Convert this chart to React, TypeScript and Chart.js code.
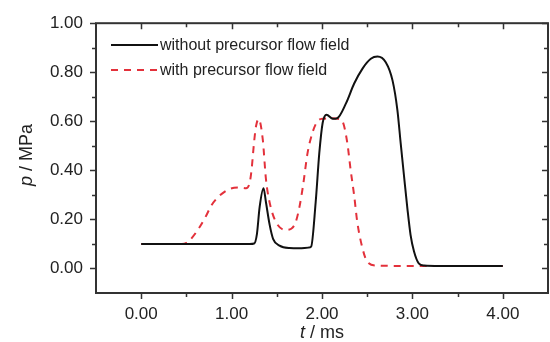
import React, { useEffect, useRef } from "react";
import { Chart, registerables } from "chart.js";

Chart.register(...registerables);

const seriesNames = ["without precursor flow field", "with precursor flow field"];

const tSolid = [0, 0.5, 1.0, 1.2, 1.25, 1.28, 1.31, 1.353, 1.38, 1.42, 1.46, 1.53, 1.64, 1.75, 1.85, 1.88, 1.93, 1.97, 2.007, 2.05, 2.12, 2.17, 2.265, 2.356, 2.448, 2.54, 2.614, 2.705, 2.78, 2.834, 2.87, 2.907, 2.945, 2.98, 3.018, 3.07, 3.13, 3.3, 4.0];
const pSolid = [0.10, 0.10, 0.10, 0.10, 0.102, 0.14, 0.25, 0.327, 0.27, 0.18, 0.12, 0.093, 0.083, 0.082, 0.085, 0.089, 0.27, 0.47, 0.593, 0.627, 0.61, 0.613, 0.673, 0.754, 0.815, 0.855, 0.864, 0.841, 0.767, 0.646, 0.512, 0.378, 0.243, 0.136, 0.069, 0.021, 0.012, 0.01, 0.01];

const tDashed = [0, 0.45, 0.5, 0.54, 0.647, 0.72, 0.776, 0.868, 0.978, 1.088, 1.16, 1.2, 1.22, 1.25, 1.27, 1.30, 1.345, 1.38, 1.42, 1.49, 1.60, 1.66, 1.71, 1.75, 1.79, 1.84, 1.90, 1.95, 2.0, 2.1, 2.19, 2.227, 2.28, 2.316, 2.356, 2.39, 2.448, 2.50, 2.6, 3.0, 4.0];
const pDashed = [0.10, 0.10, 0.104, 0.116, 0.169, 0.216, 0.257, 0.297, 0.324, 0.33, 0.327, 0.35, 0.40, 0.52, 0.58, 0.609, 0.525, 0.364, 0.27, 0.19, 0.157, 0.162, 0.19, 0.25, 0.337, 0.47, 0.56, 0.60, 0.61, 0.612, 0.609, 0.6, 0.512, 0.404, 0.297, 0.19, 0.082, 0.028, 0.012, 0.01, 0.01];

const xMajorTicks = [0, 1, 2, 3, 4];
const xMinorTicks = [0.5, 1.5, 2.5, 3.5];
const yMajorTicks = [0, 0.2, 0.4, 0.6, 0.8, 1.0];
const yMinorTicks = [0.1, 0.3, 0.5, 0.7, 0.9];

const AXIS_COLOR = "#333";
const TEXT_COLOR = "#222";
const FONT = "'Liberation Sans', Arial, sans-serif";

const framePlugin = {
  id: "frame",
  afterDraw(chart: any) {
    const ctx = chart.ctx;
    const { left, right, top, bottom } = chart.chartArea;
    const xs = chart.scales.x;
    const ys = chart.scales.y;
    ctx.save();
    ctx.strokeStyle = AXIS_COLOR;
    ctx.lineWidth = 2;
    ctx.strokeRect(left, top, right - left, bottom - top);
    ctx.lineWidth = 1.5;
    const major = 6, minor = 4;
    ctx.beginPath();
    for (const v of xMajorTicks) {
      const px = Math.round(xs.getPixelForValue(v)) + 0.5;
      ctx.moveTo(px, bottom); ctx.lineTo(px, bottom + major);
      ctx.moveTo(px, top); ctx.lineTo(px, top + major);
    }
    for (const v of xMinorTicks) {
      const px = Math.round(xs.getPixelForValue(v)) + 0.5;
      ctx.moveTo(px, bottom); ctx.lineTo(px, bottom + minor);
      ctx.moveTo(px, top); ctx.lineTo(px, top + minor);
    }
    for (const v of yMajorTicks) {
      const py = Math.round(ys.getPixelForValue(v)) + 0.5;
      ctx.moveTo(left, py); ctx.lineTo(left - major, py);
      ctx.moveTo(right, py); ctx.lineTo(right - major, py);
    }
    for (const v of yMinorTicks) {
      const py = Math.round(ys.getPixelForValue(v)) + 0.5;
      ctx.moveTo(left, py); ctx.lineTo(left - minor, py);
      ctx.moveTo(right, py); ctx.lineTo(right - minor, py);
    }
    ctx.stroke();

    // axis titles with italic symbol
    ctx.fillStyle = TEXT_COLOR;
    ctx.textBaseline = "middle";
    const size = 18;
    const drawMixed = (parts: [string, boolean][], cx: number, cy: number) => {
      let total = 0;
      for (const [s, it] of parts) {
        ctx.font = `${it ? "italic " : ""}${size}px ${FONT}`;
        total += ctx.measureText(s).width;
      }
      let x = cx - total / 2;
      ctx.textAlign = "left";
      for (const [s, it] of parts) {
        ctx.font = `${it ? "italic " : ""}${size}px ${FONT}`;
        ctx.fillText(s, x, cy);
        x += ctx.measureText(s).width;
      }
    };
    drawMixed([["t", true], [" / ms", false]], 322, 333);
    ctx.save();
    ctx.translate(27, 155);
    ctx.rotate(-Math.PI / 2);
    drawMixed([["p", true], [" / MPa", false]], 0, 0);
    ctx.restore();

    // legend
    const ds = chart.data.datasets;
    const lx0 = left + 15, lx1 = left + 62, tx = left + 64;
    const rows = [45, 70];
    ctx.font = `16px ${FONT}`;
    ctx.textAlign = "left";
    ctx.textBaseline = "middle";
    ds.forEach((d: any, i: number) => {
      const y = rows[i];
      ctx.beginPath();
      ctx.strokeStyle = d.borderColor;
      ctx.lineWidth = 2;
      ctx.setLineDash(d.borderDash || []);
      ctx.moveTo(lx0, y); ctx.lineTo(lx1, y);
      ctx.stroke();
      ctx.setLineDash([]);
      ctx.fillStyle = TEXT_COLOR;
      ctx.fillText(d.label, tx, y + 1);
    });
    ctx.restore();
  },
};

export default function App() {
  const ref = useRef<HTMLCanvasElement>(null);
  useEffect(() => {
    const canvas = ref.current!;
    const chart = new Chart(canvas, {
      type: "line",
      data: {
        datasets: [
          {
            label: seriesNames[0],
            data: tSolid.map((t, i) => ({ x: t, y: pSolid[i] })),
            borderColor: "#111",
            borderWidth: 2,
            pointRadius: 0,
            cubicInterpolationMode: "monotone",
            fill: false,
          },
          {
            label: seriesNames[1],
            data: tDashed.map((t, i) => ({ x: t, y: pDashed[i] })),
            borderColor: "#e3313b",
            borderWidth: 2,
            borderDash: [7, 6],
            pointRadius: 0,
            cubicInterpolationMode: "monotone",
            fill: false,
          },
        ],
      },
      options: {
        animation: false,
        responsive: false,
        layout: { padding: { top: 19, right: 2, left: 0, bottom: 0 } },
        plugins: { legend: { display: false }, tooltip: { enabled: false } },
        scales: {
          x: {
            type: "linear",
            min: -0.5,
            max: 4.5,
            border: { display: false },
            grid: { display: false, drawTicks: false },
            afterBuildTicks: (s: any) => { s.ticks = xMajorTicks.map((v) => ({ value: v })); },
            afterFit: (s: any) => { s.height = 49; },
            ticks: {
              padding: 11,
              color: TEXT_COLOR,
              font: { family: FONT, size: 17 },
              callback: (v: any) => Number(v).toFixed(2),
              maxRotation: 0,
              autoSkip: false,
            },
          },
          y: {
            type: "linear",
            min: -0.1,
            max: 1.0,
            border: { display: false },
            grid: { display: false, drawTicks: false },
            afterBuildTicks: (s: any) => { s.ticks = yMajorTicks.map((v) => ({ value: v })); },
            afterFit: (s: any) => { s.width = 96; },
            ticks: {
              padding: 13,
              color: TEXT_COLOR,
              font: { family: FONT, size: 17 },
              callback: (v: any) => Number(v).toFixed(2),
              autoSkip: false,
            },
          },
        },
      },
      plugins: [framePlugin],
    } as any);
    return () => chart.destroy();
  }, []);
  return (
    <div style={{ position: "fixed", left: 0, top: 0, width: 550, height: 342, background: "#fff" }}>
      <canvas ref={ref} width={550} height={342} />
    </div>
  );
}
